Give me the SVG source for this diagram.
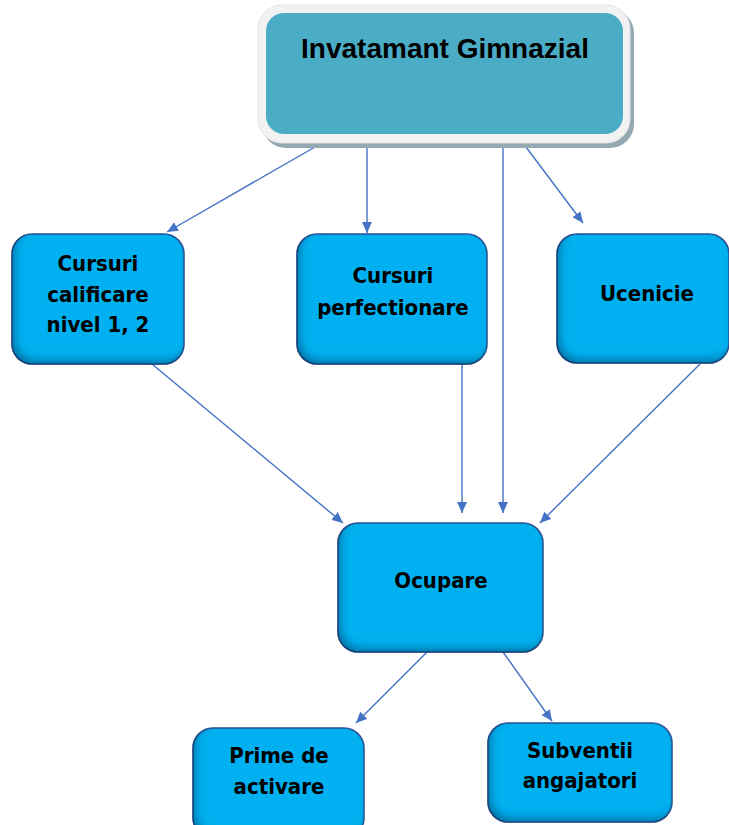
<svg xmlns="http://www.w3.org/2000/svg" width="729" height="825" viewBox="0 0 729 825">
  <defs>
    <style>
      .box { fill: #00B0F0; stroke: #2F5597; stroke-width: 1.5; }
      .lbl { font-family: "DejaVu Sans Condensed", "DejaVu Sans", Verdana, sans-serif; font-stretch: condensed; font-weight: bold; font-size: 22px; fill: #000; text-anchor: middle; }
      .title { font-family: "Liberation Sans", Arial, sans-serif; font-weight: bold; font-size: 28px; fill: #000; text-anchor: middle; }
      .conn { stroke: #4472C4; stroke-width: 1.4; fill: none; marker-end: url(#arr); }
    </style>
    <marker id="arr" markerUnits="userSpaceOnUse" markerWidth="12" markerHeight="10" refX="11" refY="5" orient="auto">
      <path d="M0,0 L11,5 L0,10 z" fill="#4472C4"/>
    </marker>
    <filter id="inset" x="-10%" y="-10%" width="120%" height="120%">
      <feComponentTransfer in="SourceAlpha" result="inv">
        <feFuncA type="table" tableValues="1 0"/>
      </feComponentTransfer>
      <feOffset in="inv" dx="4" dy="-5" result="off"/>
      <feGaussianBlur in="off" stdDeviation="4" result="blur"/>
      <feFlood flood-color="#002a55" flood-opacity="0.65"/>
      <feComposite in2="blur" operator="in" result="sh"/>
      <feComposite in="sh" in2="SourceAlpha" operator="in" result="ish"/>
      <feMerge>
        <feMergeNode in="SourceGraphic"/>
        <feMergeNode in="ish"/>
      </feMerge>
    </filter>
  </defs>

  <g id="connectors">
    <line class="conn" x1="322" y1="143" x2="167" y2="232"/>
    <line class="conn" x1="367" y1="143" x2="367" y2="233"/>
    <line class="conn" x1="503" y1="143" x2="503" y2="513"/>
    <line class="conn" x1="523" y1="143" x2="583" y2="223"/>
    <line class="conn" x1="152" y1="364" x2="343" y2="523"/>
    <line class="conn" x1="462" y1="364" x2="462" y2="513"/>
    <line class="conn" x1="700" y1="364" x2="540" y2="523"/>
    <line class="conn" x1="427" y1="652" x2="356" y2="723"/>
    <line class="conn" x1="503" y1="652" x2="552" y2="721"/>
  </g>

  <g id="node-invatamant">
    <rect x="262" y="9" width="372" height="139" rx="24" fill="#95A9B3"/>
    <rect x="258" y="5" width="372" height="138" rx="24" fill="#F2F2F2" stroke="#E4E4E4" stroke-width="1"/>
    <rect x="266" y="13" width="357" height="121" rx="18" fill="#4BACC6"/>
    <text class="title" x="445" y="58">Invatamant Gimnazial</text>
  </g>

  <g id="node-calificare">
    <rect class="box" filter="url(#inset)" x="12" y="234" width="172" height="130" rx="20"/>
    <text class="lbl" x="98" y="271">Cursuri</text>
    <text class="lbl" x="98" y="302">calificare</text>
    <text class="lbl" x="98" y="332">nivel 1, 2</text>
  </g>

  <g id="node-perfectionare">
    <rect class="box" filter="url(#inset)" x="297" y="234" width="190" height="130" rx="20"/>
    <text class="lbl" x="393" y="283">Cursuri</text>
    <text class="lbl" x="393" y="315">perfectionare</text>
  </g>

  <g id="node-ucenicie">
    <rect class="box" filter="url(#inset)" x="557" y="234" width="172" height="129" rx="20"/>
    <text class="lbl" x="647" y="301">Ucenicie</text>
  </g>

  <g id="node-ocupare">
    <rect class="box" filter="url(#inset)" x="338" y="523" width="205" height="129" rx="20"/>
    <text class="lbl" x="441" y="588">Ocupare</text>
  </g>

  <g id="node-prime">
    <rect class="box" filter="url(#inset)" x="193" y="728" width="171" height="110" rx="20"/>
    <text class="lbl" x="279" y="763">Prime de</text>
    <text class="lbl" x="279" y="794">activare</text>
  </g>

  <g id="node-subventii">
    <rect class="box" filter="url(#inset)" x="488" y="723" width="184" height="99" rx="20"/>
    <text class="lbl" x="580" y="758">Subventii</text>
    <text class="lbl" x="580" y="788">angajatori</text>
  </g>
</svg>
